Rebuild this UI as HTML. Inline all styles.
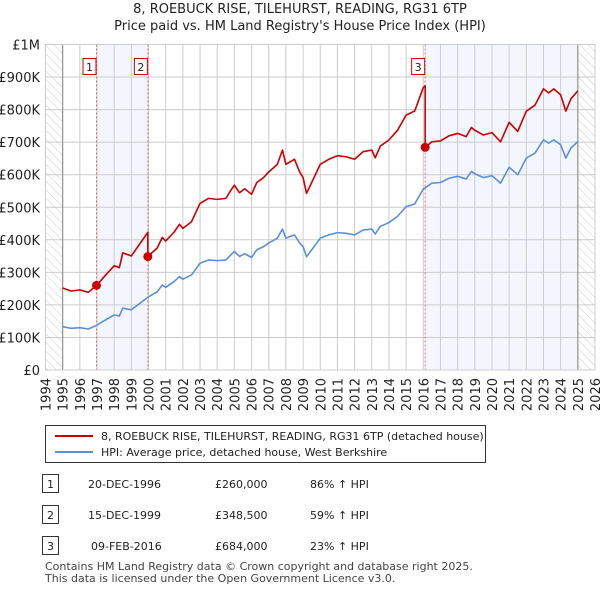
<!DOCTYPE html>
<html><head><meta charset="utf-8"><style>
body{margin:0;background:#fff;font-family:"Liberation Sans","DejaVu Sans",sans-serif;}
svg text{font-family:"DejaVu Sans","Liberation Sans",sans-serif;}
</style></head><body>
<svg id="c" width="600" height="590" viewBox="0 0 600 590" xmlns="http://www.w3.org/2000/svg">
<defs><pattern id="hatch" width="6" height="6" patternUnits="userSpaceOnUse" patternTransform="rotate(-45)"><line x1="0" y1="0" x2="0" y2="6" stroke="#ccc" stroke-width="1"/></pattern></defs>
<text x="300" y="13" text-anchor="middle" font-size="13" fill="#222">8, ROEBUCK RISE, TILEHURST, READING, RG31 6TP</text>
<text x="300" y="30" text-anchor="middle" font-size="13" fill="#222">Price paid vs. HM Land Registry's House Price Index (HPI)</text>
<g id="plot"></g>
<g>
<rect x="45.5" y="425.5" width="440" height="37" fill="#fff" stroke="#333"/>
<line x1="55" y1="436" x2="93" y2="436" stroke="#cc0000" stroke-width="2"/>
<text x="101" y="440" font-size="11" fill="#222">8, ROEBUCK RISE, TILEHURST, READING, RG31 6TP (detached house)</text>
<line x1="55" y1="452" x2="93" y2="452" stroke="#5b8fd6" stroke-width="2"/>
<text x="101" y="456" font-size="11" fill="#222">HPI: Average price, detached house, West Berkshire</text>
</g>
<g font-size="11" fill="#222">
<rect x="42.5" y="474.5" width="16" height="18" fill="#fff" stroke="#333"/><text x="50.5" y="488" text-anchor="middle">1</text>
<text x="88" y="488">20-DEC-1996</text><text x="215" y="488">£260,000</text><text x="310" y="488">86% ↑ HPI</text>
<rect x="42.5" y="505.5" width="16" height="18" fill="#fff" stroke="#333"/><text x="50.5" y="519" text-anchor="middle">2</text>
<text x="88" y="519">15-DEC-1999</text><text x="215" y="519">£348,500</text><text x="310" y="519">59% ↑ HPI</text>
<rect x="42.5" y="536.5" width="16" height="18" fill="#fff" stroke="#333"/><text x="50.5" y="550" text-anchor="middle">3</text>
<text x="91" y="550">09-FEB-2016</text><text x="215" y="550">£684,000</text><text x="310" y="550">23% ↑ HPI</text>
</g>
<text x="45" y="570" font-size="11" fill="#444">Contains HM Land Registry data © Crown copyright and database right 2025.</text>
<text x="45" y="582" font-size="11" fill="#444">This data is licensed under the Open Government Licence v3.0.</text>
</svg>
<script>
const hpiYears=[1995,1995.5,1996,1996.5,1997,1997.5,1998,1998.3,1998.5,1999,1999.5,2000,2000.5,2000.8,2001,2001.5,2001.8,2002,2002.5,2003,2003.5,2004,2004.5,2004.8,2005,2005.3,2005.6,2006,2006.3,2006.7,2007,2007.5,2007.8,2008,2008.5,2008.8,2009,2009.2,2009.5,2010,2010.5,2011,2011.5,2012,2012.5,2013,2013.2,2013.5,2014,2014.5,2015,2015.5,2016,2016.5,2017,2017.5,2018,2018.5,2018.8,2019,2019.5,2020,2020.5,2021,2021.5,2022,2022.5,2023,2023.3,2023.6,2024,2024.3,2024.6,2025];
const hpiValues=[133,128,130,126,138,154,169,166,190,185,205,225,240,261,254,272,287,279,292,328,338,336,338,354,364,349,357,346,369,379,390,405,433,405,415,390,379,348,369,405,415,422,420,415,430,433,418,441,453,472,502,510,556,574,576,589,595,587,610,603,591,597,574,623,600,651,666,707,697,707,692,651,682,702];
const saleYears=[1996.97,1999.96,2016.11];
const salePrices=[260000,348500,684000];
const yTicks=[0,100,200,300,400,500,600,700,800,900,1000];
const yTickLabels=["£0","£100K","£200K","£300K","£400K","£500K","£600K","£700K","£800K","£900K","£1M"];
const xTicks=[1994,1995,1996,1997,1998,1999,2000,2001,2002,2003,2004,2005,2006,2007,2008,2009,2010,2011,2012,2013,2014,2015,2016,2017,2018,2019,2020,2021,2022,2023,2024,2025,2026];
const L=45.5,R=595,T=44.5,B=370;
const X=y=>L+(y-1994)*(R-L)/32;
const Y=v=>B-v*(B-T)/1000;
const g=document.getElementById('plot');
const NS='http://www.w3.org/2000/svg';
function mk(tag,at,parent){const e=document.createElementNS(NS,tag);for(const k in at)e.setAttribute(k,at[k]);(parent||g).appendChild(e);return e;}
function hpiAt(t){for(let i=0;i<hpiYears.length-1;i++){if(t>=hpiYears[i]&&t<=hpiYears[i+1]){const f=(t-hpiYears[i])/(hpiYears[i+1]-hpiYears[i]);return hpiValues[i]+f*(hpiValues[i+1]-hpiValues[i]);}}return hpiValues[hpiValues.length-1];}
// shading
let e;
e=mk('rect',{x:X(saleYears[0]),y:T,width:X(saleYears[1])-X(saleYears[0]),height:B-T,fill:'#eef3fc',opacity:0.7});

e=mk('rect',{x:X(saleYears[2]),y:T,width:X(2025)-X(saleYears[2]),height:B-T,fill:'#eef3fc',opacity:0.7});

e=mk('rect',{x:L,y:T,width:X(1995)-L,height:B-T,fill:'url(#hatch)'});

e=mk('rect',{x:X(2025),y:T,width:R-X(2025),height:B-T,fill:'url(#hatch)'});

// grid
xTicks.forEach((t,i)=>{
 e=mk('line',{x1:X(t),x2:X(t),y1:T,y2:B,stroke:'#ccc','stroke-width':1});
 
 e=mk('text',{x:0,y:0,transform:`translate(${X(t)+5},${B+8}) rotate(-90)`,'text-anchor':'end','font-size':13,fill:'#222'});
 e.textContent=t;
});
yTicks.forEach((v,i)=>{
 e=mk('line',{x1:L,x2:R,y1:Y(v),y2:Y(v),stroke:'#ccc','stroke-width':1});
 
 e=mk('text',{x:40,y:Y(v)+5,'text-anchor':'end','font-size':13,fill:'#222'});
 e.textContent=yTickLabels[i];
});
e=mk('line',{x1:X(1995),x2:X(1995),y1:T,y2:B,stroke:'#888','stroke-width':1});

e=mk('line',{x1:X(2025),x2:X(2025),y1:T,y2:B,stroke:'#888','stroke-width':1});

// sale lines
saleYears.forEach((s,i)=>{
 e=mk('line',{x1:X(s),x2:X(s),y1:T,y2:B,stroke:'#ee6666','stroke-width':1,'stroke-dasharray':'2,2'});
 
});
// HPI line
e=mk('polyline',{points:hpiYears.map((t,i)=>X(t)+','+Y(hpiValues[i])).join(' '),fill:'none',stroke:'#5b8fd6','stroke-width':1.6,'stroke-linejoin':'round'});

// property line
const ratios=saleYears.map((s,i)=>salePrices[i]/1000/hpiAt(s));
const pts=[];
const bounds=[1995,saleYears[1],saleYears[2],2025.01];
for(let seg=0;seg<3;seg++){
 const r=seg===0?ratios[0]:ratios[seg];
 const a=bounds[seg],b=bounds[seg+1];
 pts.push([a,hpiAt(a)*r]);
 hpiYears.forEach((t,i)=>{if(t>a&&t<b)pts.push([t,hpiValues[i]*r]);});
 const bb=Math.min(b,2025);pts.push([bb,hpiAt(bb)*r]);
}
e=mk('polyline',{points:pts.map(p=>X(p[0])+','+Y(p[1])).join(' '),fill:'none',stroke:'#cc0000','stroke-width':1.6,'stroke-linejoin':'round'});

saleYears.forEach((s,i)=>{
 e=mk('circle',{cx:X(s),cy:Y(salePrices[i]/1000),r:4.5,fill:'#cc0000'});
 
 e=mk('rect',{x:X(s)-13.5,y:58.5,width:13,height:16,fill:'#fff',stroke:'#cc0000'});
 
 e=mk('text',{x:X(s)-7,y:71,'text-anchor':'middle','font-size':11,fill:'#222'});
 e.textContent=i+1;
});
e=mk('rect',{x:L,y:T,width:R-L,height:B-T,fill:'none',stroke:'#ccc'});

</script>
</body></html>
